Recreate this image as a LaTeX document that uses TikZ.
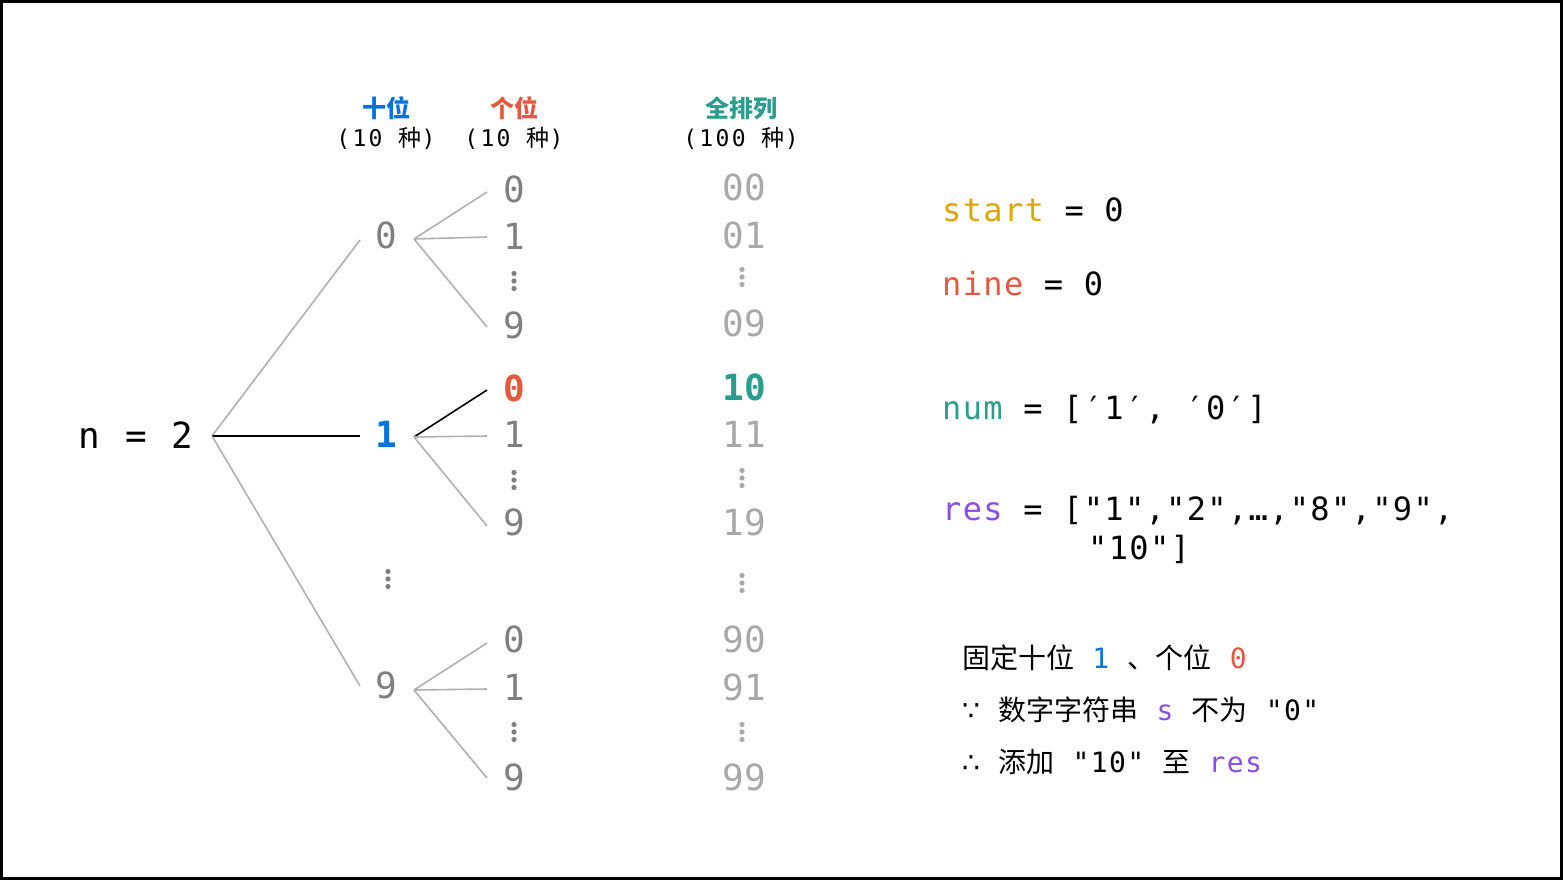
\documentclass[tikz,border=0pt]{standalone}
\usepackage{fontspec}
\setmainfont{DejaVu Sans}
\setmonofont{DejaVu Sans Mono}
\newfontfamily\cjk{Noto Sans CJK SC}
\newfontfamily\djv{DejaVu Sans}
\definecolor{cblue}{HTML}{0A72DE}
\definecolor{cred}{HTML}{E4593D}
\definecolor{cteal}{HTML}{2A9D8F}
\definecolor{cgold}{HTML}{DFA500}
\definecolor{cpurple}{HTML}{8A4DE6}
\definecolor{tgray}{HTML}{7F7F7F}
\definecolor{pgray}{HTML}{A8A8A8}
\definecolor{lgray}{HTML}{B0B0B0}
\begin{document}
\begin{tikzpicture}[x=1pt,y=-1pt,
  tree/.style={inner sep=0pt,anchor=base,text=tgray,font=\ttfamily\fontsize{36}{40}\selectfont},
  perm/.style={inner sep=0pt,anchor=base,text=pgray,font=\ttfamily\fontsize{36}{40}\selectfont},
  head/.style={inner sep=0pt,anchor=center,font=\cjk\bfseries\fontsize{24}{28}\selectfont},
  sub/.style={inner sep=0pt,anchor=center,font=\ttfamily\fontsize{23}{27}\selectfont\addfontfeatures{LetterSpace=10}},
  code/.style={inner sep=0pt,anchor=base west,font=\ttfamily\fontsize{32}{36}\selectfont\addfontfeatures{LetterSpace=4.2}},
  note/.style={inner sep=0pt,anchor=base west,font=\ttfamily\fontsize{28}{32}\selectfont\addfontfeatures{LetterSpace=5}},
  edge/.style={draw=lgray,line width=1.6pt},
  hot/.style={draw=black,line width=1.6pt}]
\useasboundingbox (0,0) rectangle (1563,880);
\draw[line width=3pt] (1.5,1.5) rectangle (1561.5,878.5);
\newcommand\vdts[3]{\foreach \dd in {-7.5,0,7.5} \fill[#3] (#1,#2+\dd) circle (2.6);}
% headers
\node[head,text=cblue] (hT) at (386,108) {十位};
\node[sub] (hTs) at (386,138) {(10 {\cjk 种})};
\node[head,text=cred] (hU) at (514,108) {个位};
\node[sub] (hUs) at (514,138) {(10 {\cjk 种})};
\node[head,text=cteal] (hP) at (741,108) {全排列};
\node[sub] (hPs) at (741,138) {(100 {\cjk 种})};
% root
\node[tree,text=black,anchor=base west] (n) at (78,448) {n\kern4pt{} = \kern3pt2};
\coordinate (nR) at (212,436);
% level 1
\node[tree] (a0) at (386,248) {0};
\node[tree,text=cblue,font=\ttfamily\bfseries\fontsize{36}{40}\selectfont] (a1) at (386,447) {1};
\node[tree] (a9) at (386,698) {9};
\vdts{388}{579}{tgray}
\coordinate (a0L) at (360,240); \coordinate (a1L) at (360,436); \coordinate (a9L) at (360,686);
\coordinate (a0R) at (414,239); \coordinate (a1R) at (414,437); \coordinate (a9R) at (414,690);
\draw[edge] (nR) -- (a0L);
\draw[hot] (nR) -- (a1L);
\draw[edge] (nR) -- (a9L);
% level 2, group 0
\node[tree] (b00) at (514,202) {0};
\node[tree] (b01) at (514,249) {1};
\node[tree] (b09) at (514,338) {9};
\vdts{514}{281}{tgray}
\coordinate (b00L) at (487,192); \coordinate (b01L) at (487,237); \coordinate (b09L) at (487,327);
\draw[edge] (a0R) -- (b00L);
\draw[edge] (a0R) -- (b01L);
\draw[edge] (a0R) -- (b09L);
% level 2, group 1
\node[tree,text=cred,font=\ttfamily\bfseries\fontsize{36}{40}\selectfont] (b10) at (514,401) {0};
\node[tree] (b11) at (514,447) {1};
\node[tree] (b19) at (514,535) {9};
\vdts{514}{480}{tgray}
\coordinate (b10L) at (487,390); \coordinate (b11L) at (487,436); \coordinate (b19L) at (487,526);
\draw[hot] (a1R) -- (b10L);
\draw[edge] (a1R) -- (b11L);
\draw[edge] (a1R) -- (b19L);
% level 2, group 9
\node[tree] (b90) at (514,652) {0};
\node[tree] (b91) at (514,700) {1};
\node[tree] (b99) at (514,790) {9};
\vdts{514}{732}{tgray}
\coordinate (b90L) at (487,643); \coordinate (b91L) at (487,689); \coordinate (b99L) at (487,778);
\draw[edge] (a9R) -- (b90L);
\draw[edge] (a9R) -- (b91L);
\draw[edge] (a9R) -- (b99L);
% permutations
\node[perm] (p00) at (744,200) {00};
\node[perm] (p01) at (744,248) {01};
\vdts{742}{277}{pgray}
\node[perm] (p09) at (744,336) {09};
\node[perm,text=cteal,font=\ttfamily\bfseries\fontsize{36}{40}\selectfont] (p10) at (744,400) {10};
\node[perm] (p11) at (744,447) {11};
\vdts{742}{478}{pgray}
\node[perm] (p19) at (744,535) {19};
\vdts{742}{583}{pgray}
\node[perm] (p90) at (744,652) {90};
\node[perm] (p91) at (744,700) {91};
\vdts{742}{732}{pgray}
\node[perm] (p99) at (744,790) {99};
% state
\node[code] (start) at (942,221) {\textcolor{cgold}{start} = 0};
\node[code] (nine) at (942,295) {\textcolor{cred}{nine} = 0};
\node[code] (num) at (942,419) {\textcolor{cteal}{num} = [\char"2032 1\char"2032, \char"2032 0\char"2032]};
\node[code] (res) at (942,520) {\textcolor{cpurple}{res} = ["1","2",…,"8","9",};
\node[code] (res2) at (1088,559) {"10"]};
% notes
\node[note] (l1) at (962,668) {{\cjk 固定十位} \textcolor{cblue}{1} {\cjk 、个位} \textcolor{cred}{0}};
\node[note] (l2) at (962,720) {{\djv ∵} {\cjk 数字字符串} \textcolor{cpurple}{s} {\cjk 不为} "0"};
\node[note] (l3) at (962,772) {{\djv ∴} {\cjk 添加} "10" {\cjk 至} \textcolor{cpurple}{res}};
\end{tikzpicture}
\end{document}
